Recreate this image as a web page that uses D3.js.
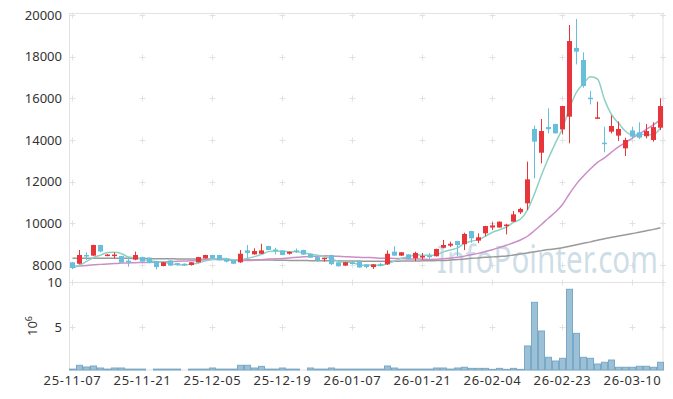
<!DOCTYPE html>
<html>
<head>
<meta charset="utf-8">
<script src="https://cdn.jsdelivr.net/npm/d3@7/dist/d3.min.js"></script>
<style>
body { margin: 0; background: #fff; }
svg { display: block; font-family: "Noto Sans", sans-serif; }
</style>
</head>
<body>
<svg id="chart" width="673" height="399"></svg>
<script>
// trading days
const dates = ['25-11-07', '25-11-10', '25-11-11', '25-11-12', '25-11-13', '25-11-14', '25-11-17', '25-11-18', '25-11-19', '25-11-20',
    '25-11-21', '25-11-24', '25-11-25', '25-11-26', '25-11-27', '25-11-28', '25-12-01', '25-12-02', '25-12-03', '25-12-04',
    '25-12-05', '25-12-08', '25-12-09', '25-12-10', '25-12-11', '25-12-12', '25-12-15', '25-12-16', '25-12-17', '25-12-18',
    '25-12-19', '25-12-22', '25-12-23', '25-12-24', '25-12-26', '25-12-29', '25-12-30', '26-01-02', '26-01-05', '26-01-06',
    '26-01-07', '26-01-08', '26-01-09', '26-01-12', '26-01-13', '26-01-14', '26-01-15', '26-01-16', '26-01-19', '26-01-20',
    '26-01-21', '26-01-22', '26-01-23', '26-01-26', '26-01-27', '26-01-28', '26-01-29', '26-01-30', '26-02-02', '26-02-03',
    '26-02-04', '26-02-05', '26-02-06', '26-02-09', '26-02-10', '26-02-11', '26-02-12', '26-02-13', '26-02-19', '26-02-20',
    '26-02-23', '26-02-24', '26-02-25', '26-02-26', '26-02-27', '26-03-03', '26-03-04', '26-03-05', '26-03-06', '26-03-09',
    '26-03-10', '26-03-11', '26-03-12', '26-03-13', '26-03-16'];

const opens = [8130, 8060, 8480, 8450, 8960, 8450, 8440, 8430, 8210, 8260,
    8380, 8350, 8190, 7950, 8220, 8090, 8060, 8000, 8130, 8320,
    8480, 8480, 8290, 8220, 8130, 8700, 8510, 8540, 8910, 8740,
    8700, 8540, 8700, 8720, 8540, 8380, 8290, 8480, 8130, 7970,
    8120, 8190, 8030, 7900, 8040, 8030, 8640, 8450, 8510, 8320,
    8370, 8450, 8420, 8830, 8930, 9150, 9000, 9630, 9170, 9520,
    9800, 9800, 9870, 10080, 10530, 10960, 14530, 13390, 14620, 14770,
    14510, 15120, 18420, 17840, 16030, 15020, 13870, 14400, 14210, 13600,
    14460, 14370, 14180, 14000, 14590];
const highs = [8150, 8720, 8610, 8970, 8970, 8530, 8600, 8440, 8370, 8640,
    8400, 8360, 8200, 8140, 8230, 8100, 8070, 8140, 8390, 8490,
    8490, 8490, 8300, 8230, 8720, 8960, 8800, 9020, 8920, 8830,
    8710, 8640, 8790, 8730, 8550, 8390, 8350, 8490, 8140, 8140,
    8200, 8200, 8040, 8040, 8100, 8700, 8900, 8620, 8520, 8640,
    8580, 8570, 8780, 9200, 9120, 9160, 9550, 9640, 9520, 9880,
    10060, 10090, 9980, 10590, 10750, 12960, 14690, 15010, 15520, 14780,
    15640, 19520, 19810, 18210, 16350, 15840, 14640, 15180, 14890, 14110,
    14640, 14850, 14770, 14850, 16000];
const lows = [7800, 8030, 8240, 8440, 8610, 8420, 8320, 8100, 7920, 8230,
    8130, 8080, 7790, 7940, 7960, 7960, 7950, 7970, 8120, 8310,
    8310, 8220, 8120, 8050, 8100, 8320, 8500, 8530, 8710, 8510,
    8470, 8500, 8580, 8490, 8340, 8150, 8160, 8000, 7930, 7950,
    8020, 7870, 7840, 7810, 7940, 8000, 8440, 8440, 8280, 8190,
    8260, 8290, 8410, 8800, 8860, 8430, 8720, 9070, 9050, 9380,
    9680, 9790, 9470, 10070, 10450, 10640, 12160, 12880, 14320, 14320,
    14270, 13840, 17630, 16510, 15710, 15010, 13410, 14320, 13950, 13230,
    14050, 14050, 14080, 13920, 14480];
const closes = [7860, 8480, 8430, 8960, 8650, 8500, 8500, 8110, 8160, 8480,
    8160, 8090, 7900, 8130, 7970, 8010, 8000, 8130, 8380, 8480,
    8320, 8230, 8160, 8060, 8540, 8580, 8670, 8700, 8720, 8680,
    8480, 8630, 8650, 8500, 8350, 8220, 8350, 8040, 7940, 8130,
    8080, 7880, 7900, 8030, 8010, 8540, 8450, 8610, 8290, 8580,
    8430, 8410, 8770, 8960, 9020, 8960, 9490, 9280, 9330, 9870,
    9900, 10080, 9940, 10430, 10690, 12110, 13920, 14430, 14520, 14320,
    15630, 18750, 18240, 16590, 15970, 15090, 13800, 14670, 14530, 14000,
    14160, 14110, 14430, 14620, 15630];

// volume, in millions of shares
const volumes = [0.4, 0.82, 0.63, 0.74, 0.52, 0.4, 0.52, 0.52, 0.4, 0.4,
    0.4, 0.3, 0.4, 0.4, 0.4, 0.4, 0.3, 0.4, 0.4, 0.4,
    0.52, 0.4, 0.4, 0.4, 0.82, 0.82, 0.52, 0.7, 0.4, 0.4,
    0.52, 0.4, 0.4, 0.3, 0.52, 0.4, 0.4, 0.52, 0.4, 0.4,
    0.4, 0.4, 0.4, 0.4, 0.4, 0.74, 0.52, 0.4, 0.4, 0.4,
    0.4, 0.4, 0.52, 0.52, 0.4, 0.52, 0.6, 0.48, 0.48, 0.48,
    0.37, 0.48, 0.37, 0.48, 0.37, 2.95, 7.76, 4.6, 1.7, 1.29,
    1.59, 9.2, 4.34, 1.7, 1.59, 0.96, 1.15, 1.4, 0.6, 0.6,
    0.6, 0.71, 0.71, 0.6, 1.15];

// moving averages as drawn
const ma5 = [7850, 7990, 8170, 8360, 8476, 8604, 8608, 8544, 8384, 8350,
    8282, 8200, 8158, 8152, 8050, 8020, 8002, 8048, 8098, 8200,
    8262, 8308, 8314, 8250, 8262, 8314, 8402, 8510, 8642, 8670,
    8650, 8642, 8632, 8588, 8522, 8470, 8414, 8292, 8180, 8136,
    8108, 8014, 7986, 8004, 7980, 8072, 8186, 8328, 8380, 8494,
    8472, 8464, 8496, 8630, 8718, 8824, 9040, 9142, 9216, 9386,
    9574, 9692, 9824, 10044, 10208, 10650, 11418, 12316, 13134, 13860,
    14564, 15530, 16292, 16706, 17036, 16928, 15938, 15224, 14812, 14418,
    14232, 14294, 14246, 14264, 14590];
const ma20 = [7920, 7950, 7980, 8010, 8030, 8050, 8070, 8090, 8100, 8110,
    8120, 8130, 8140, 8150, 8160, 8180, 8190, 8200, 8220, 8269,
    8292, 8280, 8266, 8221, 8216, 8220, 8228, 8258, 8286, 8296,
    8312, 8339, 8376, 8395, 8414, 8424, 8442, 8437, 8415, 8398,
    8386, 8368, 8355, 8354, 8327, 8325, 8314, 8310, 8288, 8283,
    8281, 8270, 8276, 8299, 8332, 8369, 8426, 8488, 8558, 8645,
    8736, 8846, 8948, 9068, 9202, 9380, 9654, 9945, 10256, 10543,
    10903, 11420, 11894, 12275, 12623, 12929, 13145, 13414, 13674, 13881,
    14094, 14295, 14520, 14729, 14976];
const maLong = [8330, 8330, 8330, 8330, 8330, 8320, 8320, 8320, 8320, 8310,
    8310, 8310, 8300, 8300, 8300, 8290, 8290, 8290, 8280, 8280,
    8270, 8260, 8260, 8250, 8250, 8250, 8240, 8240, 8240, 8230,
    8230, 8220, 8220, 8220, 8210, 8210, 8200, 8200, 8200, 8190,
    8190, 8190, 8180, 8180, 8180, 8180, 8180, 8190, 8190, 8190,
    8200, 8200, 8210, 8220, 8240, 8260, 8290, 8320, 8340, 8370,
    8390, 8410, 8430, 8480, 8530, 8580, 8640, 8690, 8740, 8780,
    8830, 8900, 8970, 9040, 9110, 9190, 9260, 9330, 9390, 9450,
    9510, 9570, 9640, 9710, 9790];

const priceTicks = [8000, 10000, 12000, 14000, 16000, 18000, 20000];
const volumeTicks = [5, 10];
const labelEvery = 10;

const upColor = '#e8343b',
    downColor = '#67bfdb';

let svg = d3.select('#chart');
let left = 69, right = 664;

let x = d3.scaleBand().domain(dates).range([left, right]);
let cx = (d) => x(d) + x.bandwidth() / 2;
let y = d3.scaleLinear().domain([7232, 20096]).range([281, 13]);
let yv = d3.scaleLinear().domain([0.3, 10]).range([370, 282]);

let rows = dates.map((d, i) => ({
    date: d, open: opens[i], high: highs[i], low: lows[i], close: closes[i],
    volume: volumes[i], ma5: ma5[i], ma20: ma20[i], maLong: maLong[i]
}));

// frame
let frame = svg.append('g').attr('stroke', '#e3e3e3').attr('fill', 'none');
frame.append('rect').attr('x', left + 0.5).attr('y', 13.5).attr('width', right - left - 1.5).attr('height', 356.5);
frame.append('line').attr('x1', left).attr('x2', right).attr('y1', 282.5).attr('y2', 282.5);

// grid crosses
let tickDates = dates.filter((d, i) => i % labelEvery === 0);
let crossX = tickDates.map(cx).concat([right - 1]);
let crossY = priceTicks.map(y).concat(volumeTicks.map(yv));
let crosses = svg.append('g').attr('stroke', '#e2e2e2');
crossX.forEach(function (px) {
    crossY.forEach(function (py) {
        crosses.append('line').attr('x1', px - 3).attr('x2', px + 3)
            .attr('y1', Math.round(py) + 0.5).attr('y2', Math.round(py) + 0.5);
        crosses.append('line').attr('x1', px).attr('x2', px)
            .attr('y1', Math.round(py) - 2.5).attr('y2', Math.round(py) + 3.5);
    });
});

// watermark
svg.append('text')
    .attr('x', 437).attr('y', 273)
    .attr('textLength', 221).attr('lengthAdjust', 'spacingAndGlyphs')
    .attr('font-size', 38)
    .attr('fill', '#b9cfdd').attr('fill-opacity', 0.7)
    .text('InfoPointer.com');

// volume bars
svg.append('g').selectAll('rect')
    .data(rows).enter().append('rect')
    .attr('x', (d) => x(d.date) + 0.5)
    .attr('width', x.bandwidth() - 1)
    .attr('y', (d) => yv(d.volume))
    .attr('height', (d) => 370 - yv(d.volume))
    .attr('fill', '#9cc1d6')
    .attr('stroke', '#79a9c6')
    .attr('stroke-width', 1);

// moving averages
let line = (key) => d3.line().x((d) => cx(d.date)).y((d) => y(d[key])).curve(d3.curveMonotoneX);
[['maLong', '#9a9a9a'], ['ma20', '#cc8ec8'], ['ma5', '#8ed0c4']].forEach(function (m) {
    svg.append('path').datum(rows)
        .attr('d', line(m[0]))
        .attr('fill', 'none')
        .attr('stroke', m[1])
        .attr('stroke-width', 1.5);
});

// candles
let candle = svg.append('g').selectAll('g')
    .data(rows).enter().append('g')
    .attr('fill', (d) => d.close >= d.open ? upColor : downColor)
    .attr('stroke', (d) => d.close >= d.open ? upColor : downColor);
candle.append('line')
    .attr('x1', (d) => cx(d.date)).attr('x2', (d) => cx(d.date))
    .attr('y1', (d) => y(d.high)).attr('y2', (d) => y(d.low))
    .attr('stroke-width', 1);
candle.append('rect')
    .attr('x', (d) => x(d.date) + 1)
    .attr('width', x.bandwidth() - 2)
    .attr('y', (d) => y(Math.max(d.open, d.close)))
    .attr('height', (d) => Math.max(1.5, Math.abs(y(d.open) - y(d.close))))
    .attr('stroke', 'none');

// axis labels
let labels = svg.append('g').attr('fill', '#333').attr('font-size', 13);
labels.selectAll('.py').data(priceTicks).enter().append('text')
    .attr('x', 62).attr('y', (d) => y(d)).attr('dy', '0.35em')
    .attr('text-anchor', 'end').text((d) => d);
labels.selectAll('.vy').data(volumeTicks).enter().append('text')
    .attr('x', 62).attr('y', (d) => yv(d)).attr('dy', '0.35em')
    .attr('text-anchor', 'end').text((d) => d);
labels.selectAll('.dx').data(tickDates).enter().append('text')
    .attr('x', (d) => cx(d)).attr('y', 385)
    .attr('text-anchor', 'middle')
    .attr('letter-spacing', 0.6)
    .text((d) => d);

let unit = labels.append('text')
    .attr('transform', 'translate(37,326) rotate(-90)')
    .attr('text-anchor', 'middle');
unit.append('tspan').text('10');
unit.append('tspan').attr('dy', -5).attr('font-size', 9).text('6');
</script>
</body>
</html>
